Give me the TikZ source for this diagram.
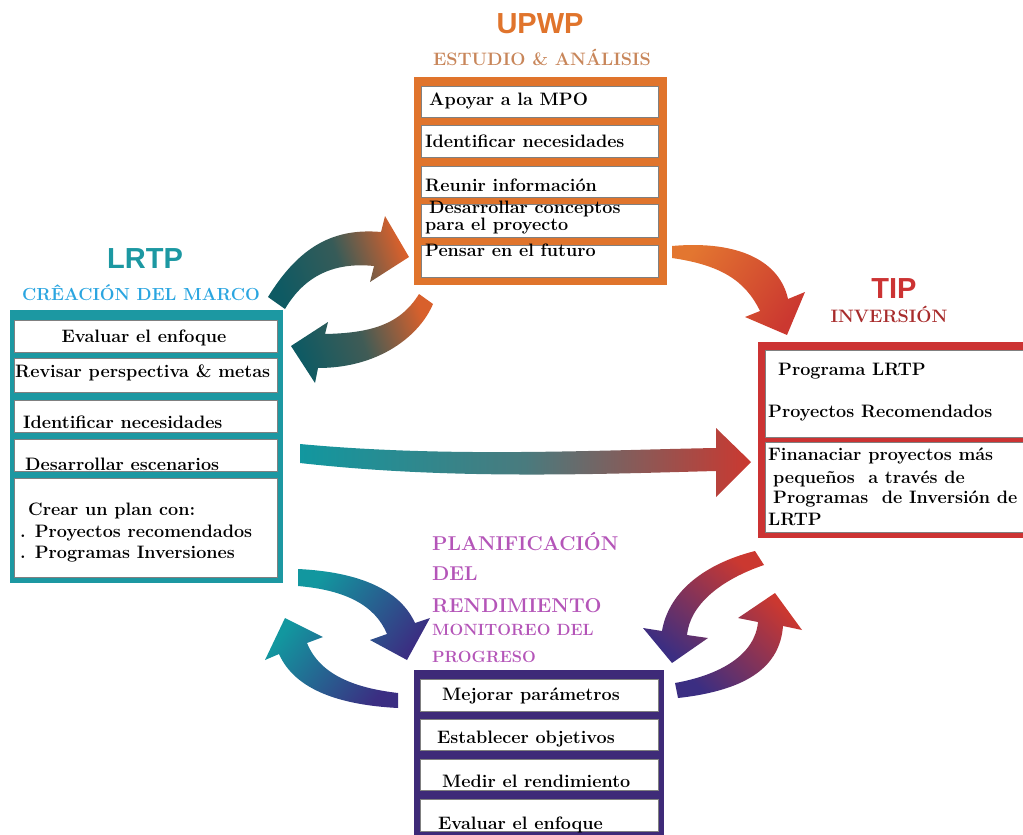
\documentclass[tikz,border=0pt]{standalone}
\usepackage{fontspec}
\newfontfamily\titlesans{Liberation Sans}
\definecolor{upwpc}{HTML}{E0742C}
\definecolor{upwpsub}{HTML}{C8865A}
\definecolor{lrtpc}{HTML}{1C98A2}
\definecolor{lrtpsub}{HTML}{2AA5E0}
\definecolor{tipc}{HTML}{CC3333}
\definecolor{tipsub}{HTML}{A82C2C}
\definecolor{planc}{HTML}{3E2A78}
\definecolor{plansub}{HTML}{B455B8}
\definecolor{rowgrey}{HTML}{808080}
\definecolor{dteal}{HTML}{0E5A63}
\definecolor{mteal}{HTML}{12979F}
\definecolor{dorange}{HTML}{D8602C}
\definecolor{lorange}{HTML}{E37630}
\definecolor{ared}{HTML}{CB3830}
\definecolor{apurple}{HTML}{3B2E82}
\newcommand{\cellfont}{\fontsize{18}{20}\selectfont\bfseries}
\newcommand{\bigsans}{\fontsize{29}{32}\selectfont\titlesans\bfseries}
\begin{document}
\begin{tikzpicture}[x=1pt,y=-1pt,
  frame/.style={fill=#1,draw=none,anchor=north west,inner sep=0pt},
  rowbox/.style={fill=white,draw=rowgrey,line width=1.3pt,anchor=north west,inner sep=0pt},
  rowtext/.style={anchor=base west,inner sep=0pt,font=\cellfont},
  headtext/.style={anchor=base,inner sep=0pt,font=\bigsans},
  subtext/.style={anchor=base,inner sep=0pt,font=\cellfont},
  plantext/.style={anchor=base west,inner sep=0pt,text=plansub,font=\fontsize{20}{22}\selectfont\bfseries}]
\useasboundingbox (0,0) rectangle (1023,835);
\clip (0,0) rectangle (1023,835);
% block arrows
\shade[top color=dorange,bottom color=dteal,middle color=dteal!80!dorange,shading angle=-71]
  (268,297) .. controls (300,245) and (335,228) .. (381,232) -- (385,216) -- (409,257) -- (370,282) -- (374,266)
  .. controls (335,262) and (305,275) .. (285,309) -- cycle;
\shade[top color=dteal,bottom color=dorange,middle color=dteal!75!dorange,shading angle=109]
  (419,294) .. controls (400,325) and (370,333) .. (325,334) -- (328,322) -- (291,346) -- (315,383) -- (318,368)
  .. controls (380,368) and (420,335) .. (433,304) -- cycle;
\shade[top color=ared,bottom color=lorange,shading angle=-125]
  (672,246) .. controls (740,240) and (780,262) .. (788,299) -- (805,292) -- (787,335) -- (745,317) -- (760,311)
  .. controls (745,280) and (720,265) .. (672,258) -- cycle;
\shade[top color=ared,bottom color=mteal,middle color=mteal!70!ared,shading angle=-90]
  (300,444) .. controls (450,458) and (600,450) .. (716,448) -- (716,428) -- (751,462) -- (716,497) -- (716,471)
  .. controls (600,474) and (450,480) .. (300,463) -- cycle;
\shade[top color=apurple,bottom color=mteal,shading angle=-126]
  (298,569) .. controls (360,572) and (400,590) .. (415,623) -- (430,618) -- (407,660) -- (370,640) -- (387,634)
  .. controls (375,605) and (345,590) .. (298,586) -- cycle;
\shade[top color=mteal,bottom color=apurple,shading angle=53]
  (398,708) .. controls (340,705) and (295,690) .. (279,654) -- (265,660) -- (285,618) -- (323,637) -- (307,643)
  .. controls (320,675) and (355,688) .. (398,693) -- cycle;
\shade[top color=apurple,bottom color=ared,shading angle=141]
  (755,551) .. controls (700,565) and (668,595) .. (662,631) -- (643,628) -- (672,663) -- (708,638) -- (687,635)
  .. controls (690,605) and (720,580) .. (764,565) -- cycle;
\shade[top color=ared,bottom color=apurple,shading angle=-44]
  (678,698) .. controls (750,690) and (780,665) .. (783,626) -- (802,630) -- (775,593) -- (738,618) -- (758,622)
  .. controls (755,655) and (720,675) .. (675,683) -- cycle;
% UPWP
\node[headtext,text=upwpc] (upwpt) at (540,33) {UPWP};
\node[subtext,text=upwpsub] (upwps) at (542,65) {ESTUDIO \& ANÁLISIS};
\node[frame=upwpc,minimum width=253pt,minimum height=208pt] (upwp) at (414,77) {};
\node[rowbox,minimum width=237pt,minimum height=31pt] (u1) at (421,86) {};
\node[rowbox,minimum width=237pt,minimum height=32pt] (u2) at (421,125) {};
\node[rowbox,minimum width=237pt,minimum height=31pt] (u3) at (421,166) {};
\node[rowbox,minimum width=237pt,minimum height=33pt] (u4) at (421,204) {};
\node[rowbox,minimum width=237pt,minimum height=32pt] (u5) at (421,245) {};
\node[rowtext] (u1t) at (429,105) {Apoyar a la MPO};
\node[rowtext] (u2t) at (425,147) {Identificar necesidades};
\node[rowtext] (u3t) at (425,191) {Reunir información};
\node[rowtext] (u4t) at (429,213) {Desarrollar conceptos};
\node[rowtext] (u4u) at (425,230) {para el proyecto};
\node[rowtext] (u5t) at (425,256) {Pensar en el futuro};
% LRTP
\node[headtext,text=lrtpc] (lrtpt) at (145,268) {LRTP};
\node[subtext,text=lrtpsub,font=\fontsize{17.5}{20}\selectfont\bfseries] (lrtps) at (141,300) {CRÊACIÓN DEL MARCO};
\node[frame=lrtpc,minimum width=273pt,minimum height=273pt] (lrtp) at (10,310) {};
\node[rowbox,minimum width=263pt,minimum height=32pt] (l1) at (14,320) {};
\node[rowbox,minimum width=263pt,minimum height=34pt] (l2) at (14,358) {};
\node[rowbox,minimum width=263pt,minimum height=32pt] (l3) at (14,400) {};
\node[rowbox,minimum width=263pt,minimum height=32pt] (l4) at (14,439) {};
\node[rowbox,minimum width=263pt,minimum height=99pt] (l5) at (14,478) {};
\node[rowtext,anchor=base] (l1t) at (144,342) {Evaluar el enfoque};
\node[rowtext] (l2t) at (15,377) {Revisar perspectiva \& metas};
\node[rowtext] (l3t) at (23,428) {Identificar necesidades};
\node[rowtext] (l4t) at (25,470) {Desarrollar escenarios};
\node[rowtext] (l5t) at (28,515) {Crear un plan con:};
\node[rowtext] (l5u) at (20,537) {. Proyectos recomendados};
\node[rowtext] (l5v) at (20,558) {. Programas Inversiones};
% TIP
\node[headtext,text=tipc] (tipt) at (894,298) {TIP};
\node[subtext,text=tipsub] (tips) at (889,322) {INVERSIÓN};
\node[frame=tipc,minimum width=300pt,minimum height=196pt] (tip) at (758,342) {};
\node[rowbox,minimum width=280pt,minimum height=87pt] (t1) at (765,350) {};
\node[rowbox,minimum width=280pt,minimum height=90pt] (t2) at (765,442) {};
\node[rowtext] (t1t) at (778,375) {Programa LRTP};
\node[rowtext] (t1u) at (768,417) {Proyectos Recomendados};
\node[rowtext] (t2t) at (768,460) {Finanaciar proyectos más};
\node[rowtext] (t2u) at (773,483) {pequeños\ \ a través de};
\node[rowtext] (t2v) at (773,503) {Programas\ \ de Inversión de};
\node[rowtext] (t2w) at (768,525) {LRTP};
% planificacion
\node[plantext] (pl1) at (432,550) {PLANIFICACIÓN};
\node[plantext] (pl2) at (432,580) {DEL};
\node[plantext] (pl3) at (432,612) {RENDIMIENTO};
\node[plantext,font=\fontsize{16.3}{18}\selectfont\bfseries] (pl4) at (432,635) {MONITOREO DEL};
\node[plantext,font=\fontsize{16.3}{18}\selectfont\bfseries] (pl5) at (432,662) {PROGRESO};
\node[frame=planc,minimum width=250pt,minimum height=200pt] (plan) at (414,670) {};
\node[rowbox,minimum width=238pt,minimum height=32pt] (p1) at (420,679) {};
\node[rowbox,minimum width=238pt,minimum height=31pt] (p2) at (420,719) {};
\node[rowbox,minimum width=238pt,minimum height=31pt] (p3) at (420,759) {};
\node[rowbox,minimum width=238pt,minimum height=32pt] (p4) at (420,799) {};
\node[rowtext] (p1t) at (442,700) {Mejorar parámetros};
\node[rowtext] (p2t) at (437,743) {Establecer objetivos};
\node[rowtext] (p3t) at (442,787) {Medir el rendimiento};
\node[rowtext] (p4t) at (438,829) {Evaluar el enfoque};
\end{tikzpicture}
\end{document}
